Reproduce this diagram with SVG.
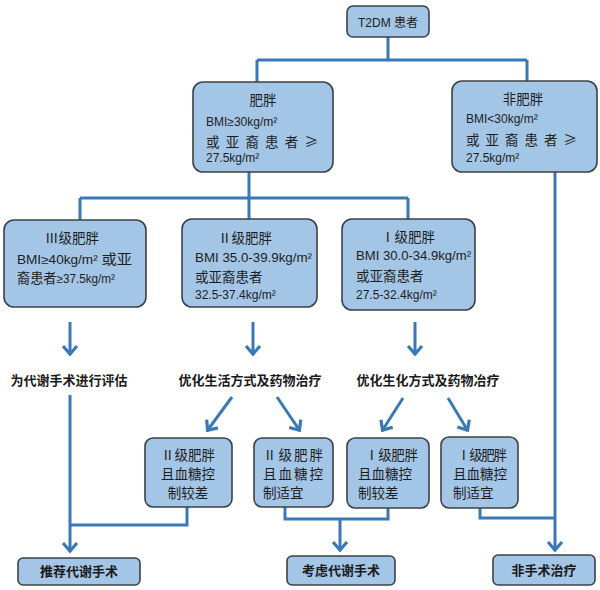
<svg xmlns="http://www.w3.org/2000/svg" width="600" height="590" viewBox="0 0 600 590">
<style>
.box{fill:#a3c5e6;stroke:#3c4146;stroke-width:1.6}
.t{font-family:"Liberation Sans","Noto Sans CJK SC",sans-serif;font-size:12px;fill:#1e1e1e}
.c{font-family:"Noto Sans CJK SC",sans-serif;font-size:13.5px;fill:#1e1e1e}
.b{font-family:"Noto Sans CJK SC",sans-serif;font-size:13px;font-weight:bold;fill:#1a1a1a}
.ln{fill:none;stroke:#3b79b5;stroke-width:3}
.ar{marker-end:url(#ah)}
</style>
<defs>
<marker id="ah" markerUnits="userSpaceOnUse" markerWidth="20" markerHeight="20" refX="1" refY="0" viewBox="-12 -10 16 20" orient="auto" overflow="visible">
<path d="M-8,-7 L0,0 L-8,7" fill="none" stroke="#3b79b5" stroke-width="3.2" stroke-linejoin="miter"/>
</marker>
</defs>
<rect width="600" height="590" fill="#ffffff"/>
<g id="connectors">
<path class="ln" d="M388,37 V60 M257,60 H527 M257,60 V82 M527,60 V81"/>
<path class="ln" d="M249,172 V198 M80,198 H408 M80,198 V220 M249,198 V219 M408,198 V219"/>
<path class="ln ar" d="M70,322 V355"/>
<path class="ln ar" d="M253,322 V355"/>
<path class="ln ar" d="M415,322 V355"/>
<path class="ln ar" d="M232,397 L207,431"/>
<path class="ln ar" d="M277,397 L300,431"/>
<path class="ln ar" d="M403,398 L382,431"/>
<path class="ln ar" d="M448,398 L468,431"/>
<path class="ln ar" d="M70,395 V552"/>
<path class="ln" d="M187,507 V525 H70"/>
<path class="ln" d="M285,507 V519 H388 V508"/>
<path class="ln ar" d="M340,519 V551"/>
<path class="ln ar" d="M555,172 V551"/>
<path class="ln" d="M480,508 V518 H555"/>
</g>
<g id="n_t2dm">
<rect class="box" x="347" y="6" width="82" height="31" rx="6"/>
<text class="t" x="388" y="26.5" text-anchor="middle" font-size="13">T2DM 患者</text>
</g>
<g id="n_obese">
<rect class="box" x="193" y="82" width="140" height="90" rx="10"/>
<text class="c" x="263" y="105" text-anchor="middle">肥胖</text>
<text class="t" x="206" y="126">BMI≥30kg/m²</text>
<text class="c" x="206" y="147" textLength="112" lengthAdjust="spacing">或亚裔患者≥</text>
<text class="t" x="206" y="162">27.5kg/m²</text>
</g>
<g id="n_nonobese">
<rect class="box" x="452" y="81" width="145" height="91" rx="10"/>
<text class="c" x="523" y="104" text-anchor="middle">非肥胖</text>
<text class="t" x="466" y="123">BMI&lt;30kg/m²</text>
<text class="c" x="466" y="145" textLength="111" lengthAdjust="spacing">或亚裔患者≥</text>
<text class="t" x="466" y="162">27.5kg/m²</text>
</g>
<g id="n_g3">
<rect class="box" x="4" y="220" width="142" height="87" rx="10"/>
<text class="c" x="72" y="243" text-anchor="middle">Ⅲ级肥胖</text>
<text class="t" x="17" y="264" textLength="115" lengthAdjust="spacingAndGlyphs">BMI≥40kg/m² <tspan font-size="13.5">或亚</tspan></text>
<text class="t" x="17" y="283" textLength="98" lengthAdjust="spacingAndGlyphs"><tspan font-size="13.5">裔患者</tspan>≥37.5kg/m²</text>
</g>
<g id="n_g2">
<rect class="box" x="182" y="219" width="135" height="88" rx="10"/>
<text class="c" x="245" y="243" text-anchor="middle">Ⅱ级肥胖</text>
<text class="t" x="195" y="262" textLength="117" lengthAdjust="spacingAndGlyphs">BMI 35.0-39.9kg/m²</text>
<text class="c" x="195" y="282">或亚裔患者</text>
<text class="t" x="195" y="299">32.5-37.4kg/m²</text>
</g>
<g id="n_g1">
<rect class="box" x="342" y="219" width="133" height="91" rx="10"/>
<text class="c" x="408" y="242" text-anchor="middle">Ⅰ级肥胖</text>
<text class="t" x="356" y="260" textLength="115" lengthAdjust="spacingAndGlyphs">BMI 30.0-34.9kg/m²</text>
<text class="c" x="356" y="281">或亚裔患者</text>
<text class="t" x="356" y="299">27.5-32.4kg/m²</text>
</g>
<g id="n_eval">
<text class="b" x="69" y="385" text-anchor="middle">为代谢手术进行评估</text>
</g>
<g id="n_opt2">
<text class="b" x="250" y="385" text-anchor="middle">优化生活方式及药物治疗</text>
</g>
<g id="n_opt1">
<text class="b" x="428" y="385" text-anchor="middle">优化生化方式及药物冶疗</text>
</g>
<g id="n_g2bad">
<rect class="box" x="145" y="438" width="87" height="69" rx="8"/>
<text class="c" x="188" y="460" text-anchor="middle" font-size="14">Ⅱ级肥胖</text>
<text class="c" x="188" y="479" text-anchor="middle" font-size="14">且血糖控</text>
<text class="c" x="188" y="498" text-anchor="middle" font-size="14">制较差</text>
</g>
<g id="n_g2ok">
<rect class="box" x="254" y="438" width="79" height="69" rx="8"/>
<text class="c" x="263" y="460" font-size="14" textLength="60" lengthAdjust="spacing">Ⅱ级肥胖</text>
<text class="c" x="263" y="479" font-size="14" textLength="60" lengthAdjust="spacing">且血糖控</text>
<text class="c" x="263" y="498" font-size="14">制适宜</text>
</g>
<g id="n_g1bad">
<rect class="box" x="347" y="438" width="82" height="70" rx="8"/>
<text class="c" x="365" y="460" font-size="14" textLength="53" lengthAdjust="spacing">Ⅰ级肥胖</text>
<text class="c" x="358" y="479" font-size="14">且血糖控</text>
<text class="c" x="358" y="498" font-size="14">制较差</text>
</g>
<g id="n_g1ok">
<rect class="box" x="441" y="437" width="77" height="71" rx="8"/>
<text class="c" x="457" y="460" font-size="14" textLength="50" lengthAdjust="spacing">Ⅰ级肥胖</text>
<text class="c" x="453" y="479" font-size="14">且血糖控</text>
<text class="c" x="453" y="498" font-size="14">制适宜</text>
</g>
<g id="n_recommend">
<rect class="box" x="18" y="558" width="122" height="27" rx="5"/>
<text class="b" x="79" y="576" text-anchor="middle">推荐代谢手术</text>
</g>
<g id="n_consider">
<rect class="box" x="287" y="556" width="108" height="29" rx="5"/>
<text class="b" x="341" y="575" text-anchor="middle">考虑代谢手术</text>
</g>
<g id="n_nonsurg">
<rect class="box" x="493" y="555" width="102" height="30" rx="5"/>
<text class="b" x="544" y="575" text-anchor="middle">非手术治疗</text>
</g>
</svg>
